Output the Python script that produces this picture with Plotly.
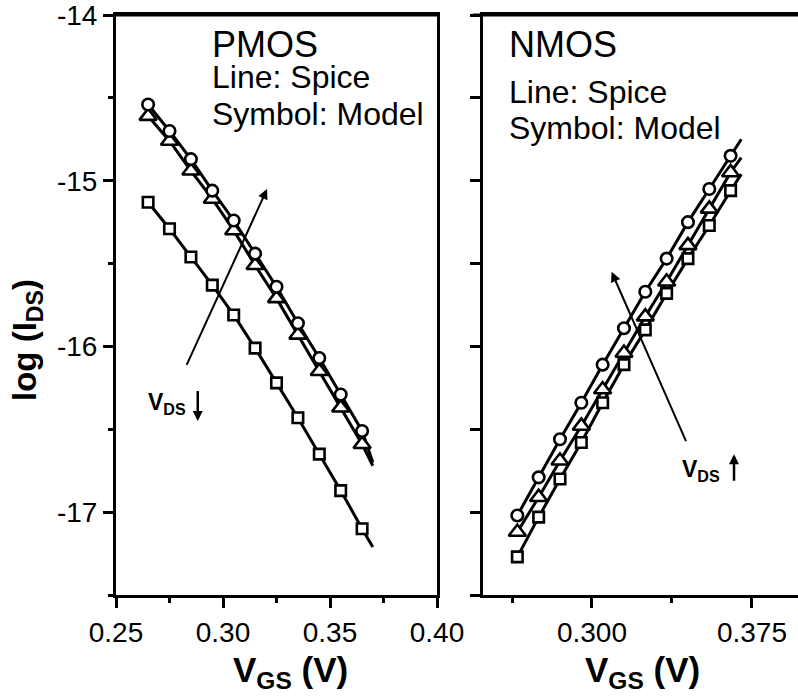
import plotly.graph_objects as go

# ---------------- data ----------------
vgs = [0.265, 0.275, 0.285, 0.295, 0.305, 0.315, 0.325, 0.335, 0.345, 0.355, 0.365]

pmos_circle = [-14.54, -14.70, -14.87, -15.06, -15.24, -15.44, -15.64, -15.86, -16.07, -16.29, -16.51]
pmos_triangle = [-14.61, -14.76, -14.94, -15.11, -15.30, -15.51, -15.71, -15.93, -16.15, -16.37, -16.59]
pmos_square = [-15.13, -15.29, -15.46, -15.63, -15.81, -16.01, -16.22, -16.43, -16.65, -16.87, -17.10]

nmos_circle = [-17.02, -16.79, -16.56, -16.34, -16.11, -15.89, -15.67, -15.47, -15.25, -15.05, -14.85]
nmos_triangle = [-17.12, -16.91, -16.69, -16.48, -16.26, -16.04, -15.82, -15.61, -15.39, -15.17, -14.95]
nmos_square = [-17.27, -17.03, -16.80, -16.58, -16.34, -16.11, -15.90, -15.68, -15.47, -15.27, -15.06]

# Spice lines (same sample points plus the line end)
spice_x = vgs + [0.370]
pmos_spice_circle = pmos_circle + [-16.70]
pmos_spice_triangle = pmos_triangle + [-16.72]
pmos_spice_square = pmos_square + [-17.21]
nmos_spice_circle = nmos_circle + [-14.75]
nmos_spice_triangle = nmos_triangle + [-14.86]
nmos_spice_square = nmos_square + [-14.96]

ytick_vals = [-17, -16, -15, -14]
ytick_text = ["-17", "-16", "-15", "-14"]
pmos_xtick_vals = [0.25, 0.30, 0.35, 0.40]
pmos_xtick_text = ["0.25", "0.30", "0.35", "0.40"]
nmos_xtick_vals = [0.300, 0.375]
nmos_xtick_text = ["0.300", "0.375"]

# ---------------- layout helpers ----------------
W, H = 798, 700
ML, MR, MT, MB = 116, 0, 15, 105
PW, PH = W - ML - MR, H - MT - MB


def px(xp):
    return (xp - ML) / PW


def py(yp):
    return (H - MB - yp) / PH


FONT = "Liberation Sans, Arial, sans-serif"
BLACK = "#000000"

fig = go.Figure()

line_style = dict(color=BLACK, width=3)


def add_panel(xa, ya, c, t, s, lc, lt, ls):
    for yy in (lc, lt, ls):
        fig.add_trace(go.Scatter(x=spice_x, y=yy, mode="lines", line=line_style,
                                 xaxis=xa, yaxis=ya, showlegend=False, hoverinfo="skip",
                                 cliponaxis=False))
    for yy, sym, size in ((s, "square", 10.5), (t, "triangle-up", 15), (c, "circle", 11.5)):
        fig.add_trace(go.Scatter(x=vgs, y=yy, mode="markers",
                                 marker=dict(symbol=sym, size=size, color="white",
                                             line=dict(color=BLACK, width=2.6)),
                                 xaxis=xa, yaxis=ya, showlegend=False, cliponaxis=False))


add_panel("x", "y", pmos_circle, pmos_triangle, pmos_square,
          pmos_spice_circle, pmos_spice_triangle, pmos_spice_square)
add_panel("x2", "y2", nmos_circle, nmos_triangle, nmos_square,
          nmos_spice_circle, nmos_spice_triangle, nmos_spice_square)

axis_common = dict(showline=True, linecolor=BLACK, linewidth=3, showgrid=False, zeroline=False,
                   ticks="outside", ticklen=10, tickwidth=3, tickcolor=BLACK, automargin=False,
                   ticklabeloverflow="allow",
                   tickfont=dict(family=FONT, size=28, color=BLACK))

fig.update_layout(
    template="none",
    width=W, height=H,
    margin=dict(l=ML, r=MR, t=MT, b=MB, pad=0),
    paper_bgcolor="white", plot_bgcolor="white",
    font=dict(family=FONT, color=BLACK),
    xaxis=dict(domain=[0, px(437)], range=[0.25, 0.40], tickvals=pmos_xtick_vals,
               ticktext=pmos_xtick_text, mirror=True, anchor="y",
               minor=dict(ticks="outside", ticklen=5, tickwidth=3, tickcolor=BLACK, dtick=0.025, tick0=0.25),
               **axis_common),
    yaxis=dict(domain=[0, 1], range=[-17.5, -14], tickvals=ytick_vals, ticktext=ytick_text,
               mirror=True, anchor="x",
               minor=dict(ticks="outside", ticklen=5, tickwidth=3, tickcolor=BLACK, dtick=0.5, tick0=-14),
               **axis_common),
    xaxis2=dict(domain=[px(483), 1], range=[0.2489, 0.3966], tickvals=nmos_xtick_vals,
                ticktext=nmos_xtick_text, mirror=True, anchor="y2",
                minor=dict(ticks="outside", ticklen=5, tickwidth=3, tickcolor=BLACK, dtick=0.0375, tick0=0.3),
                **axis_common),
    yaxis2=dict(domain=[0, 1], range=[-17.5, -14], tickvals=ytick_vals, showticklabels=False,
                mirror=False, anchor="x2",
                minor=dict(ticks="outside", ticklen=10, tickwidth=3, tickcolor=BLACK, dtick=0.5, tick0=-14),
                **axis_common),
)

# top frame lines (drawn explicitly so they are always visible)
fig.add_shape(type="line", xref="paper", yref="paper", x0=px(113), x1=px(439), y0=1, y1=1,
              line=dict(color=BLACK, width=3))
fig.add_shape(type="line", xref="paper", yref="paper", x0=px(473), x1=1, y0=1, y1=1,
              line=dict(color=BLACK, width=3))

ann = []


def text_ann(xp, yp, text, size, bold=False, xanchor="left", angle=0):
    ann.append(dict(x=px(xp), y=py(yp), xref="paper", yref="paper", text=text, showarrow=False,
                    xanchor=xanchor, yanchor="middle", textangle=angle,
                    font=dict(family=FONT, size=size, color=BLACK, weight="bold" if bold else "normal")))


# panel labels
text_ann(210, 44, "PMOS", 36)
text_ann(210, 77, "Line: Spice", 32)
text_ann(210, 114, "Symbol: Model", 32)
text_ann(507, 44, "NMOS", 36)
text_ann(507, 92, "Line: Spice", 32)
text_ann(507, 128, "Symbol: Model", 32)

# axis titles
text_ann(290, 672, "V<sub>GS</sub> (V)", 35, bold=True, xanchor="center")
text_ann(642, 672, "V<sub>GS</sub> (V)", 35, bold=True, xanchor="center")
text_ann(27, 340, "log (I<sub>DS</sub>)", 33, bold=True, xanchor="center", angle=-90)

# V_DS labels
text_ann(146, 403, "V<sub>DS</sub>", 23, bold=True)
text_ann(680, 470, "V<sub>DS</sub>", 23, bold=True)


def arrow(xr, yr, x, y, ax, ay, width=2, size=1.0):
    ann.append(dict(x=x, y=y, ax=ax, ay=ay, xref=xr, yref=yr, axref=xr, ayref=yr,
                    showarrow=True, arrowhead=2, arrowsize=size, arrowwidth=width,
                    arrowcolor=BLACK, text=""))


# V_DS direction arrows
arrow("x", "y", 0.3206, -15.05, 0.2827, -16.12)
arrow("x2", "y2", 0.3092, -15.55, 0.3444, -16.58)
arrow("x", "y", 0.2882, -16.45, 0.2882, -16.26, width=2.5, size=0.8)
arrow("x2", "y2", 0.3666, -16.65, 0.3666, -16.82, width=2.5, size=0.8)

fig.update_layout(annotations=ann)

fig.write_html("out.html")
